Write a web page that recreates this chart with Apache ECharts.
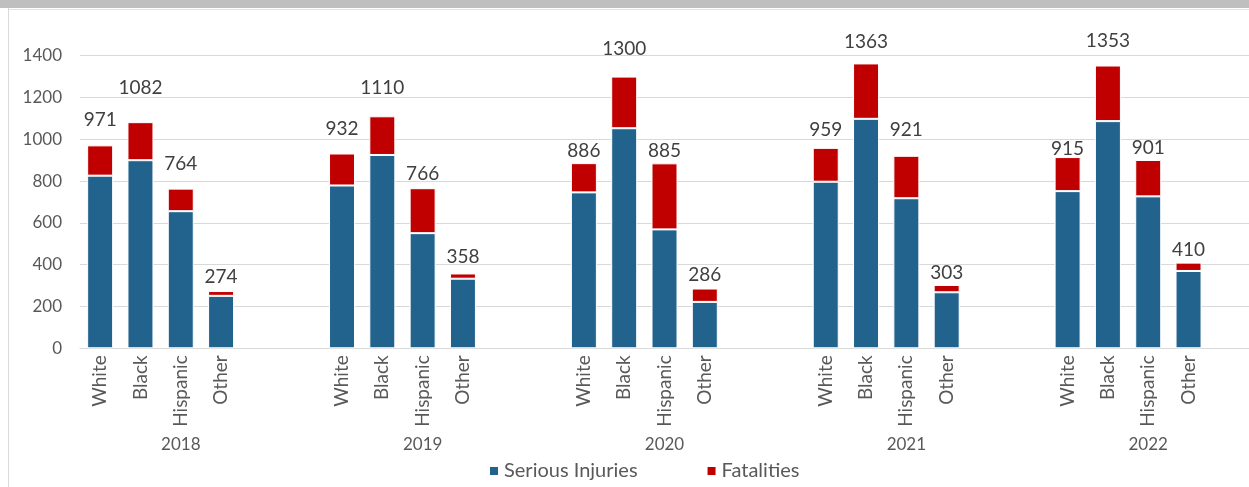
<!DOCTYPE html>
<html>
<head>
<meta charset="utf-8">
<style>
  html, body { margin: 0; padding: 0; background: #ffffff; }
  #chart { width: 1249px; height: 487px; }
</style>
<script src="https://cdn.jsdelivr.net/npm/echarts@6/dist/echarts.min.js"></script>
</head>
<body>
<div id="chart"></div>
<script>
// Serious injuries and fatalities by race, per year
const years = ['2018', '2019', '2020', '2021', '2022'];
const groups = ['White', 'Black', 'Hispanic', 'Other'];

const seriousInjuries = [
  [826, 900, 656, 251],
  [779, 925, 551, 333],
  [746, 1053, 569, 222],
  [797, 1098, 718, 268],
  [752, 1087, 727, 370]
];

const fatalities = [
  [145, 182, 108, 23],
  [153, 185, 215, 25],
  [140, 247, 316, 64],
  [162, 265, 203, 35],
  [163, 266, 174, 40]
];

// Extra lift (px) for each total label so neighbouring labels stay apart
const labelLift = [
  [13, 22, 12, 2],
  [12, 16, 2, 4],
  [0, 15, 0, 1],
  [5, 9, 13, 0],
  [-4, 12, 0, 0]
];

const FONT = 'Lato, "Open Sans", sans-serif';
const BLUE = '#22638e';
const RED = '#c00000';

// One slot per bar; each year closes with an empty slot, and one more separates years
const slotNames = [];
const yearNames = [];
const injData = [];
const fatData = [];
const totals = [];
years.forEach((y, i) => {
  groups.forEach((g, j) => {
    slotNames.push(g);
    yearNames.push(j === 2 ? y : '');
    injData.push(seriousInjuries[i][j]);
    fatData.push({
      value: fatalities[i][j],
      label: { offset: [0, -labelLift[i][j]] }
    });
    totals.push(seriousInjuries[i][j] + fatalities[i][j]);
  });
  const pad = i < years.length - 1 ? 2 : 1;
  for (let k = 0; k < pad; k++) {
    slotNames.push('');
    yearNames.push('');
    injData.push('-');
    fatData.push('-');
    totals.push(null);
  }
});

const chart = echarts.init(document.getElementById('chart'), null, { renderer: 'canvas' });

chart.setOption({
  animation: false,
  backgroundColor: '#ffffff',
  textStyle: { fontFamily: FONT },
  graphic: [
    { type: 'rect', shape: { x: 0, y: 0, width: 1249, height: 8 }, style: { fill: '#bfbfbf' }, silent: true },
    { type: 'line', shape: { x1: 8, y1: 9.5, x2: 1249, y2: 9.5 }, style: { stroke: '#e3e3e3', lineWidth: 1 }, silent: true },
    { type: 'line', shape: { x1: 8.5, y1: 8, x2: 8.5, y2: 487 }, style: { stroke: '#d9d9d9', lineWidth: 1 }, silent: true }
  ],
  grid: { left: 80, right: -2, top: 55.7, bottom: 138.7, containLabel: false },
  legend: {
    left: 483,
    top: 456,
    icon: 'rect',
    itemWidth: 10,
    itemHeight: 10,
    itemGap: 68,
    textStyle: { fontFamily: FONT, fontSize: 20, color: '#595959' },
    data: ['Serious Injuries', 'Fatalities']
  },
  xAxis: [
    {
      type: 'category',
      data: slotNames,
      axisLine: { show: true, lineStyle: { color: '#d9d9d9', width: 1 } },
      axisTick: { show: false },
      axisLabel: {
        interval: 0,
        rotate: 90,
        margin: 7,
        fontFamily: FONT,
        fontSize: 19,
        color: '#595959'
      }
    },
    {
      type: 'category',
      data: yearNames,
      position: 'bottom',
      axisLine: { show: false },
      axisTick: { show: false },
      axisLabel: {
        interval: 0,
        margin: 88,
        fontFamily: FONT,
        fontSize: 17,
        color: '#595959'
      }
    }
  ],
  yAxis: {
    type: 'value',
    min: 0,
    max: 1400,
    interval: 200,
    axisLine: { show: false },
    axisTick: { show: false },
    splitLine: { lineStyle: { color: '#d9d9d9', width: 1.2 } },
    axisLabel: {
      margin: 18,
      fontFamily: FONT,
      fontSize: 17,
      color: '#595959',
      formatter: v => String(v)
    }
  },
  series: [
    {
      name: 'Serious Injuries',
      type: 'bar',
      stack: 'total',
      xAxisIndex: 0,
      barWidth: 26,
      itemStyle: { color: BLUE, borderColor: '#ffffff', borderWidth: 1 },
      data: injData
    },
    {
      name: 'Fatalities',
      type: 'bar',
      stack: 'total',
      xAxisIndex: 0,
      barWidth: 26,
      itemStyle: { color: RED, borderColor: '#ffffff', borderWidth: 1 },
      label: {
        show: true,
        position: 'top',
        distance: 3,
        fontFamily: FONT,
        fontSize: 19,
        color: '#404040',
        formatter: p => String(totals[p.dataIndex])
      },
      data: fatData
    }
  ]
});
</script>
</body>
</html>
